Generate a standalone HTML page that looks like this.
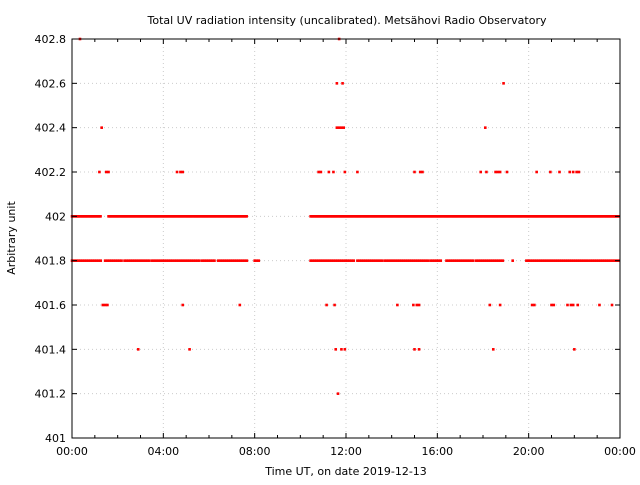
<!DOCTYPE html>
<html><head><meta charset="utf-8"><style>
body{margin:0;background:#fff;font-family:"Liberation Sans","DejaVu Sans",sans-serif}
svg text{font-family:"DejaVu Sans","Liberation Sans",sans-serif;font-size:11px;fill:#000}
</style></head><body>
<svg id="c" width="640" height="480">
<text x="347" y="24" text-anchor="middle">Total UV radiation intensity (uncalibrated). Metsähovi Radio Observatory</text>
<g id="grid"></g><g id="pts"></g>
<rect x="72" y="39" width="548" height="399" fill="none" stroke="#000"/>
<g id="axes"></g>
<text x="346" y="475" text-anchor="middle">Time UT, on date 2019-12-13</text>
<text transform="translate(15,238) rotate(-90)" text-anchor="middle">Arbitrary unit</text>
</svg>
<script>
const xTickLabels=["00:00","04:00","08:00","12:00","16:00","20:00","00:00"];
const yTicks=[401,401.2,401.4,401.6,401.8,402,402.2,402.4,402.6,402.8];
const yTickLabels=["401","401.2","401.4","401.6","401.8","402","402.2","402.4","402.6","402.8"];
const runs402=[[0,1.3],[1.6,7.65],[10.45,24]];
const runs4018=[[0,1.3],[1.45,2.2],[2.3,3.4],[3.5,4.4],[4.5,5.6],[5.7,6.3],[6.4,7.7],[8.0,8.25],[10.45,12.4],[12.5,13.6],[13.7,15.6],[15.7,16.2],[16.4,17.6],[17.7,18.9],[19.3,19.35],[19.9,22.6],[22.7,24]];
const sparseTimes=[0.35,11.7, 11.6,11.85,18.9, 1.3,11.6,11.7,11.8,11.9,18.1,
 1.2,1.5,1.6,4.6,4.75,4.85,10.8,10.9,11.25,11.45,11.95,12.5,15.0,15.25,15.35,17.9,18.15,18.55,18.65,18.75,19.05,20.35,20.95,21.35,21.8,21.95,22.1,22.2,
 1.35,1.45,1.55,4.85,7.35,11.15,11.5,14.25,14.95,15.1,15.2,18.3,18.75,20.15,20.25,21.0,21.1,21.7,21.85,21.95,22.15,23.1,23.65,
 2.9,5.15,11.55,11.8,11.95,15.0,15.2,18.45,22.0, 11.65];
const sparseValues=[402.8,402.8, 402.6,402.6,402.6, 402.4,402.4,402.4,402.4,402.4,402.4,
 402.2,402.2,402.2,402.2,402.2,402.2,402.2,402.2,402.2,402.2,402.2,402.2,402.2,402.2,402.2,402.2,402.2,402.2,402.2,402.2,402.2,402.2,402.2,402.2,402.2,402.2,402.2,402.2,
 401.6,401.6,401.6,401.6,401.6,401.6,401.6,401.6,401.6,401.6,401.6,401.6,401.6,401.6,401.6,401.6,401.6,401.6,401.6,401.6,401.6,401.6,401.6,
 401.4,401.4,401.4,401.4,401.4,401.4,401.4,401.4,401.4, 401.2];
const X=h=>72+h*548/24, Y=v=>438-(v-401)*399/1.8;
const NS="http://www.w3.org/2000/svg";
const grid=document.getElementById('grid'),pts=document.getElementById('pts'),axes=document.getElementById('axes');
function mk(tag,attrs,parent){const e=document.createElementNS(NS,tag);for(const k in attrs)e.setAttribute(k,attrs[k]);parent.appendChild(e);return e;}
yTicks.forEach((v,i)=>{
 const l=mk('line',{x1:72,x2:620,y1:Y(v),y2:Y(v),stroke:'#ccc','stroke-dasharray':'1,3'},grid);
 
 
 mk('line',{x1:72,x2:77,y1:Y(v),y2:Y(v),stroke:'#000'},axes);
 mk('line',{x1:615,x2:620,y1:Y(v),y2:Y(v),stroke:'#000'},axes);
 const t=mk('text',{x:66,y:Y(v)+4,'text-anchor':'end'},axes);t.textContent=yTickLabels[i];
 
 
});
for(let h=0;h<=24;h++){
 const major=h%4===0,len=major?5:3;
 mk('line',{x1:X(h),x2:X(h),y1:438,y2:438-len,stroke:'#000'},axes);
 mk('line',{x1:X(h),x2:X(h),y1:39,y2:39+len,stroke:'#000'},axes);
 if(major){
  const l=mk('line',{x1:X(h),x2:X(h),y1:39,y2:438,stroke:'#ccc','stroke-dasharray':'1,3'},grid);
  
  
  const t=mk('text',{x:X(h),y:455,'text-anchor':'middle'},axes);t.textContent=xTickLabels[h/4];
  
  
 }
}
function dot(h,v){const c=mk('rect',{x:X(h)-1.3,y:Y(v)-1.3,width:2.6,height:2.6,fill:'#f00'},pts);
 
 }
runs402.forEach(r=>{for(let h=r[0];h<=r[1];h+=0.05)dot(h,402);});
runs4018.forEach(r=>{for(let h=r[0];h<=r[1];h+=0.09)dot(h,401.8);});
sparseTimes.forEach((h,i)=>dot(h,sparseValues[i]));
</script>
</body></html>
